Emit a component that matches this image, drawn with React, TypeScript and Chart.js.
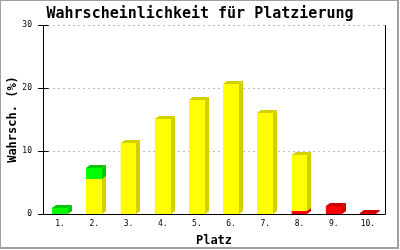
import { useEffect, useRef } from "react";
import { Chart, registerables } from "chart.js";

Chart.register(...registerables);

const categories = ["1.", "2.", "3.", "4.", "5.", "6.", "7.", "8.", "9.", "10."];
const redValues = [0, 0, 0, 0, 0, 0, 0, 0.5, 1.3, 0.2];
const yellowValues = [0, 5.6, 11.3, 15.1, 18.1, 20.7, 16.1, 8.9, 0, 0];
const greenValues = [1.0, 1.7, 0, 0, 0, 0, 0, 0, 0, 0];
const yMin = 0;
const yMax = 30;
const yStep = 10;

const titleText = "Wahrscheinlichkeit für Platzierung";
const xTitle = "Platz";
const yTitle = "Wahrsch. (%)";

const MONO = "'DejaVu Sans Mono', 'Liberation Mono', monospace";
const DX = 4;
const DY = 3;

const frontColors = ["#ff0000", "#ffff00", "#00ff00"];
const sideColors = ["#cc0000", "#d4d000", "#00c800"];

const depthPlugin = {
  id: "depth3d",
  afterDatasetsDraw(chart: any) {
    const ctx = chart.ctx;
    const area = chart.chartArea;
    ctx.save();
    chart.data.datasets.forEach((_ds: any, di: number) => {
      const meta = chart.getDatasetMeta(di);
      meta.data.forEach((bar: any) => {
        const p = bar.getProps(["x", "y", "base", "width"], true);
        const top = Math.round(p.y);
        const base = Math.round(p.base);
        if (base - top < 1) return;
        const left = Math.round(p.x - p.width / 2);
        const right = Math.round(p.x + p.width / 2);
        ctx.fillStyle = frontColors[di];
        ctx.fillRect(left, top, right - left, base - top);
        ctx.fillStyle = sideColors[di];
        ctx.beginPath();
        ctx.moveTo(right, top);
        ctx.lineTo(right + DX, top - DY);
        ctx.lineTo(right + DX, base - DY);
        ctx.lineTo(right, base);
        ctx.closePath();
        ctx.fill();
        ctx.beginPath();
        ctx.moveTo(left, top);
        ctx.lineTo(left + DX, top - DY);
        ctx.lineTo(right + DX, top - DY);
        ctx.lineTo(right, top);
        ctx.closePath();
        ctx.fill();
      });
    });
    ctx.strokeStyle = "#000";
    ctx.lineWidth = 1;
    ctx.setLineDash([]);
    const l = Math.round(area.left) + 0.5;
    const r = Math.round(area.right) + 0.5;
    const t = Math.round(area.top);
    const b = Math.round(area.bottom) + 0.5;
    ctx.beginPath();
    ctx.moveTo(l, t);
    ctx.lineTo(l, b);
    ctx.lineTo(r, b);
    ctx.moveTo(r, t);
    ctx.lineTo(r, b);
    const ys = chart.scales.y;
    ys.ticks.forEach((tk: any) => {
      const py = Math.round(ys.getPixelForValue(tk.value)) + 0.5;
      ctx.moveTo(l, py);
      ctx.lineTo(l + 5, py);
    });
    ctx.stroke();
    ctx.restore();
  },
  afterDraw(chart: any) {
    const ctx = chart.ctx;
    ctx.save();
    ctx.strokeStyle = "#a0a0a0";
    ctx.lineWidth = 2;
    ctx.strokeRect(0, 0, 398, 248);
    ctx.restore();
  },
};

export default function App() {
  const ref = useRef<HTMLCanvasElement | null>(null);

  useEffect(() => {
    document.body.style.margin = "0";
    const canvas = ref.current;
    if (!canvas) return;
    const chart = new Chart(canvas, {
      type: "bar",
      data: {
        labels: categories,
        datasets: [
          { label: "rot", data: redValues, backgroundColor: frontColors[0] },
          { label: "gelb", data: yellowValues, backgroundColor: frontColors[1] },
          { label: "grün", data: greenValues, backgroundColor: frontColors[2] },
        ],
      },
      options: {
        responsive: false,
        animation: false,
        devicePixelRatio: 1,
        layout: { padding: 0 },
        datasets: { bar: { barPercentage: 0.46, categoryPercentage: 1 } },
        plugins: {
          legend: { display: false },
          tooltip: { enabled: false },
          title: {
            display: true,
            text: titleText,
            color: "#000",
            font: { family: MONO, size: 15, weight: "bold", lineHeight: 1.2 },
            padding: { top: 5, bottom: 2 },
          },
        },
        scales: {
          x: {
            stacked: true,
            grid: { display: false, drawTicks: false },
            border: { display: false },
            ticks: { color: "#000", font: { family: MONO, size: 8 }, padding: 5, maxRotation: 0 },
            title: {
              display: true,
              text: xTitle,
              color: "#000",
              font: { family: MONO, size: 12, weight: "bold", lineHeight: 1.2 },
              padding: { top: 0, bottom: 2 },
            },
            afterFit: (s: any) => {
              s.height = 36;
            },
          },
          y: {
            stacked: true,
            min: yMin,
            max: yMax,
            ticks: { stepSize: yStep, color: "#000", font: { family: MONO, size: 8 }, padding: 6 },
            grid: {
              color: (c: any) => (c.tick && c.tick.value === 0 ? "rgba(0,0,0,0)" : "#bbbbbb"),
              tickColor: "#000",
              tickLength: 5,
              lineWidth: 1,
            },
            border: { display: false, dash: [2, 3] },
            title: {
              display: true,
              text: yTitle,
              color: "#000",
              font: { family: MONO, size: 12, weight: "bold", lineHeight: 1.2 },
              padding: { top: 6, bottom: 0 },
            },
            afterFit: (s: any) => {
              s.width = 43;
            },
          },
          yRight: {
            position: "right",
            display: true,
            min: yMin,
            max: yMax,
            grid: { display: false, drawTicks: false },
            border: { display: false },
            ticks: { display: false },
            afterFit: (s: any) => {
              s.width = 15;
            },
          },
        },
      },
      plugins: [depthPlugin],
    });
    return () => chart.destroy();
  }, []);

  return (
    <div style={{ width: 400, height: 250 }}>
      <canvas ref={ref} width={400} height={250} style={{ display: "block" }} />
    </div>
  );
}
